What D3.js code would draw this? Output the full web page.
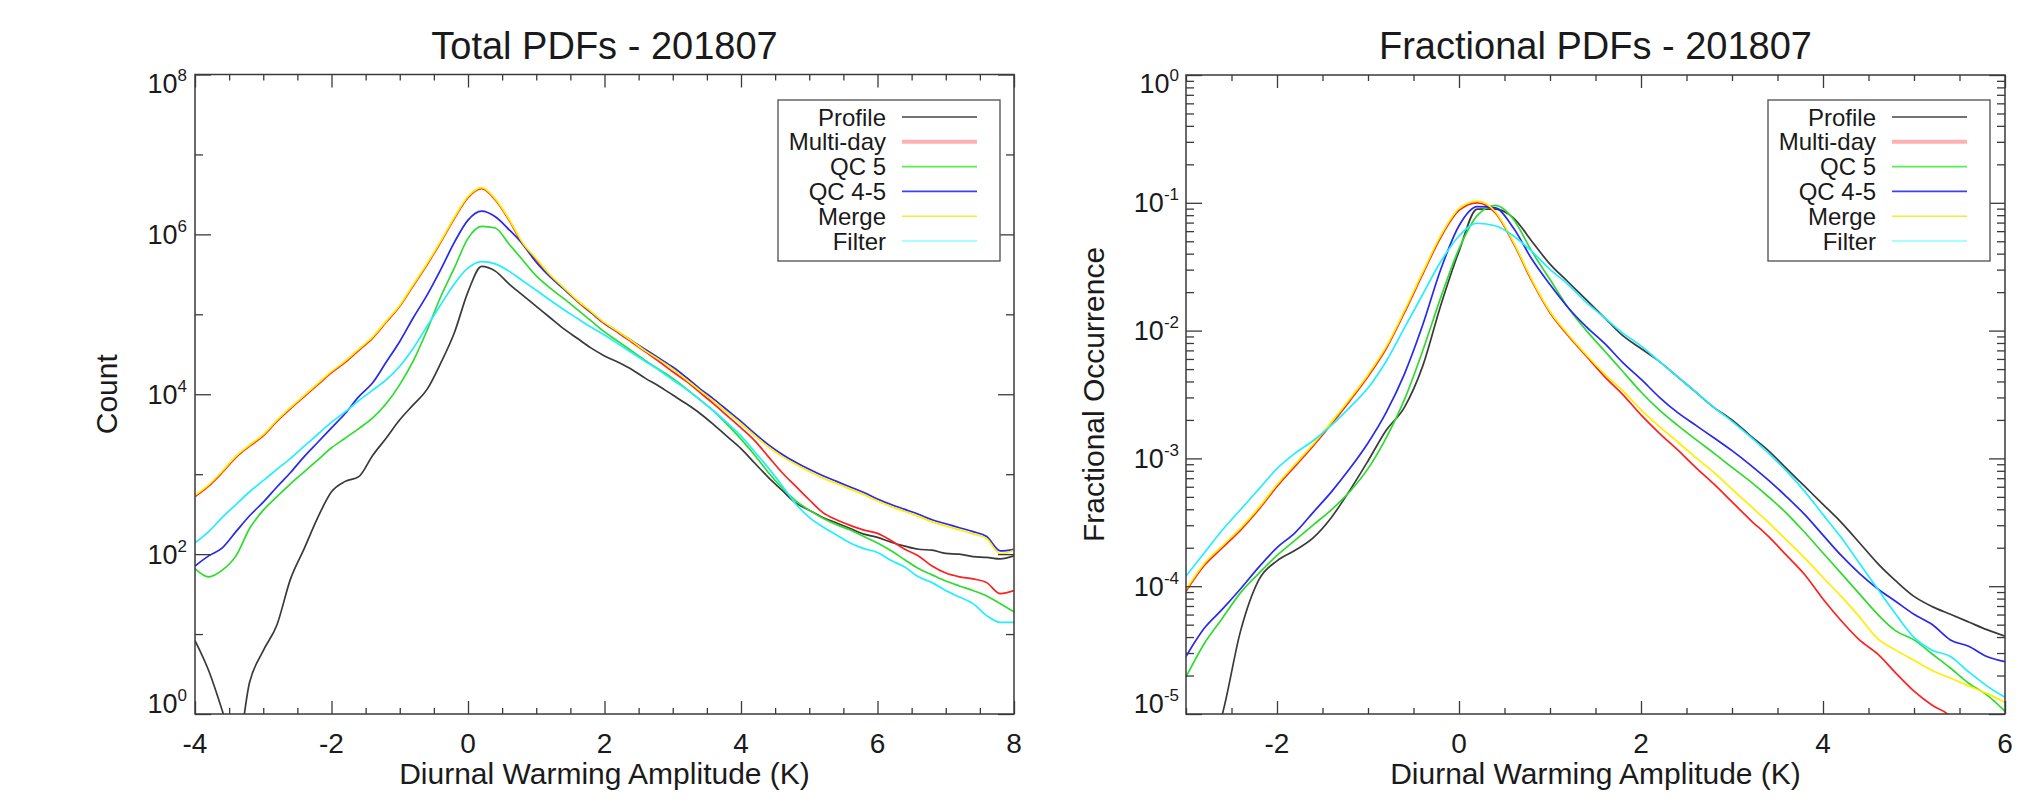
<!DOCTYPE html>
<html><head><meta charset="utf-8">
<script src="https://cdn.jsdelivr.net/npm/d3@7"></script>
<style>
body{margin:0;background:#fff}
svg{display:block}
text{font-family:"Liberation Sans",Arial,Helvetica,sans-serif;fill:#1a1a1a}
</style>
</head><body>
<svg id="c" width="2042" height="803"></svg>
<script>
const seriesNames = ["Profile","Multi-day","QC 5","QC 4-5","Merge","Filter"];
const lineColors = ["#3a3a3a","#ff2020","#2edc2e","#2828f0","#ffee00","#22eeff"];
const legendColors = ["#444444","#ffb0b0","#55ee55","#4040ee","#eeee33","#88ffff"];

// ---- Total PDFs (left) ----
const xTotal = [-4,-3.8,-3.6,-3.4,-3.2,-3,-2.8,-2.6,-2.4,-2.2,-2,-1.8,-1.6,-1.4,-1.2,-1,-0.8,-0.6,-0.4,-0.2,0,0.2,0.4,0.6,0.8,1,1.2,1.4,1.6,1.8,2,2.2,2.4,2.6,2.8,3,3.2,3.4,3.6,3.8,4,4.2,4.4,4.6,4.8,5,5.2,5.4,5.6,5.8,6,6.2,6.4,6.6,6.8,7,7.2,7.4,7.6,7.8,8];
const totalProfile = [8.3,3.5,1.1,0.3,2.5,6.2,13,49,117,288,603,813,933,1700,2820,4790,7410,11500,24500,58900,191000,398000,347000,240000,174000,126000,91200,66100,50100,38000,30200,25100,20400,15800,12600,9770,7590,5750,4170,2950,2090,1380,912,631,437,355,288,245,209,178,162,141,126,115,112,102,100,93,91,87,95];
const totalMultiDay = [525,708,1050,1620,2240,3020,4570,6610,9330,13200,18600,25100,35500,50100,79400,126000,229000,417000,794000,1580000,2880000,3720000,2690000,1510000,759000,479000,302000,209000,145000,105000,75900,58900,44700,33900,25700,19100,14500,10500,7590,5370,3800,2630,1660,1050,708,479,331,269,229,200,182,148,115,95,71,58,52,49,44,32,35];
const totalQC5 = [66,52,63,95,209,355,525,759,1070,1510,2140,2820,3720,5010,7590,13200,26300,63100,166000,380000,891000,1260000,1200000,759000,479000,302000,214000,158000,115000,83200,60300,45700,34700,26300,20400,15800,11700,8510,6170,4170,2750,1740,1050,676,468,355,282,234,200,166,138,110,85,66,55,46,40,35,30,24,19];
const totalQC45 = [71,95,120,191,302,447,692,1050,1660,2510,3800,5750,9330,13800,25100,45700,91200,174000,363000,794000,1510000,1950000,1660000,1150000,759000,447000,295000,209000,148000,107000,77600,60300,46800,36300,28200,21900,16200,11700,8710,6310,4570,3240,2340,1780,1410,1150,955,813,692,589,490,417,363,316,269,240,214,191,166,110,115];
const totalMerge = [545,735,1090,1680,2320,3130,4730,6850,9660,13700,19300,26000,36800,51900,82200,130000,237000,432000,822000,1640000,2980000,3850000,2780000,1560000,786000,496000,313000,216000,150000,109000,78600,61000,46300,34900,27100,20600,15200,11100,8180,5930,4300,3040,2200,1670,1330,1080,897,763,650,553,461,391,341,297,253,225,201,179,156,101,112];
const totalFilter = [138,191,288,417,603,832,1150,1580,2240,3160,4470,6030,8320,11200,15100,22400,38000,70800,132000,240000,380000,457000,427000,347000,263000,200000,151000,115000,89100,69200,55000,42700,33100,25700,20000,15100,11500,8510,6170,4370,3020,1910,1200,724,427,288,219,174,138,117,105,83,69,52,44,35,29,24,17,14,14];
const totalXTicks = [-4,-2,0,2,4,6,8];
const totalXTickLabels = ["-4","-2","0","2","4","6","8"];
const totalYExps = [0,2,4,6,8];
const totalYMinor = [10,1e3,1e5,1e7];

// ---- Fractional PDFs (right) ----
const xFrac = [-3,-2.8,-2.6,-2.4,-2.2,-2,-1.8,-1.6,-1.4,-1.2,-1,-0.8,-0.6,-0.4,-0.2,0,0.2,0.4,0.6,0.8,1,1.2,1.4,1.6,1.8,2,2.2,2.4,2.6,2.8,3,3.2,3.4,3.6,3.8,4,4.2,4.4,4.6,4.8,5,5.2,5.4,5.6,5.8,6];
const fracProfile = [2.5e-6,4.0e-6,1.0e-5,4.47e-5,1.12e-4,1.58e-4,1.91e-4,2.40e-4,3.47e-4,5.62e-4,9.55e-4,1.66e-3,2.51e-3,5.25e-3,1.58e-2,4.17e-2,8.91e-2,8.91e-2,7.59e-2,5.01e-2,3.31e-2,2.40e-2,1.74e-2,1.26e-2,9.12e-3,7.24e-3,5.75e-3,4.37e-3,3.31e-3,2.51e-3,2.00e-3,1.51e-3,1.15e-3,8.32e-4,6.03e-4,4.37e-4,3.16e-4,2.19e-4,1.51e-4,1.10e-4,8.32e-5,6.92e-5,6.03e-5,5.25e-5,4.57e-5,4.07e-5];
const fracMultiDay = [9.12e-5,1.45e-4,2.00e-4,2.75e-4,3.98e-4,6.03e-4,8.71e-4,1.26e-3,1.86e-3,2.82e-3,4.37e-3,7.24e-3,1.38e-2,2.75e-2,5.37e-2,8.71e-2,1.00e-1,8.32e-2,4.79e-2,2.45e-2,1.38e-2,9.12e-3,6.31e-3,4.37e-3,3.16e-3,2.19e-3,1.58e-3,1.17e-3,8.51e-4,6.31e-4,4.57e-4,3.31e-4,2.45e-4,1.74e-4,1.23e-4,7.94e-5,5.37e-5,3.80e-5,2.95e-5,2.09e-5,1.51e-5,1.17e-5,9.55e-6,5.62e-6,3.98e-6,3.16e-6];
const fracQC5 = [1.95e-5,3.55e-5,5.62e-5,8.91e-5,1.26e-4,1.74e-4,2.29e-4,3.02e-4,3.98e-4,5.50e-4,8.32e-4,1.45e-3,2.88e-3,6.92e-3,1.82e-2,4.37e-2,7.94e-2,9.55e-2,7.41e-2,4.17e-2,2.51e-2,1.51e-2,1.00e-2,6.92e-3,4.79e-3,3.31e-3,2.40e-3,1.82e-3,1.41e-3,1.10e-3,8.51e-4,6.61e-4,5.01e-4,3.72e-4,2.63e-4,1.82e-4,1.26e-4,8.71e-5,6.03e-5,4.47e-5,3.80e-5,2.95e-5,2.29e-5,1.74e-5,1.41e-5,1.05e-5];
const fracQC45 = [2.82e-5,4.68e-5,6.61e-5,9.55e-5,1.41e-4,2.00e-4,2.63e-4,3.80e-4,5.50e-4,8.32e-4,1.32e-3,2.29e-3,4.57e-3,1.10e-2,3.02e-2,6.61e-2,9.33e-2,9.12e-2,6.31e-2,3.63e-2,2.29e-2,1.51e-2,1.07e-2,7.94e-3,5.62e-3,4.17e-3,3.02e-3,2.29e-3,1.82e-3,1.45e-3,1.15e-3,8.91e-4,6.76e-4,5.01e-4,3.63e-4,2.51e-4,1.74e-4,1.26e-4,9.55e-5,7.59e-5,6.03e-5,5.01e-5,3.80e-5,3.39e-5,2.82e-5,2.57e-5];
const fracMerge = [9.44e-5,1.50e-4,2.07e-4,2.85e-4,4.12e-4,6.24e-4,9.01e-4,1.30e-3,1.93e-3,2.92e-3,4.52e-3,7.49e-3,1.43e-2,2.85e-2,5.56e-2,9.01e-2,1.03e-1,8.51e-2,4.90e-2,2.51e-2,1.41e-2,9.33e-3,6.46e-3,4.57e-3,3.39e-3,2.40e-3,1.78e-3,1.35e-3,1.02e-3,7.76e-4,5.75e-4,4.27e-4,3.16e-4,2.29e-4,1.66e-4,1.17e-4,8.32e-5,5.75e-5,3.89e-5,3.16e-5,2.63e-5,2.19e-5,1.91e-5,1.66e-5,1.45e-5,1.23e-5];
const fracFilter = [1.20e-4,1.82e-4,2.75e-4,3.98e-4,5.75e-4,8.32e-4,1.10e-3,1.38e-3,1.82e-3,2.51e-3,3.55e-3,5.75e-3,1.05e-2,1.91e-2,3.47e-2,5.50e-2,6.92e-2,6.61e-2,5.50e-2,4.17e-2,3.02e-2,2.29e-2,1.66e-2,1.26e-2,9.55e-3,7.59e-3,5.75e-3,4.37e-3,3.31e-3,2.51e-3,1.95e-3,1.48e-3,1.10e-3,7.94e-4,5.50e-4,3.63e-4,2.40e-4,1.51e-4,9.55e-5,6.03e-5,3.98e-5,3.16e-5,2.82e-5,2.14e-5,1.66e-5,1.35e-5];
const fracXTicks = [-2,0,2,4,6];
const fracXTickLabels = ["-2","0","2","4","6"];
const fracYExps = [-5,-4,-3,-2,-1,0];

const panels = [
  { title:"Total PDFs - 201807", ytitle:"Count", x0:195, x1:1014, y0:74.5, y1:714,
    xDomain:[-4,8], yDomain:[1,1e8], xs:xTotal,
    series:[totalProfile,totalMultiDay,totalQC5,totalQC45,totalMerge,totalFilter],
    xTicks:totalXTicks, xLabels:totalXTickLabels, yExps:totalYExps, yMinor:totalYMinor,
    ytitleX:117, labelGap:8, legendX:778 },
  { title:"Fractional PDFs - 201807", ytitle:"Fractional Occurrence", x0:1186, x1:2005, y0:75, y1:714,
    xDomain:[-3,6], yDomain:[1e-5,1], xs:xFrac,
    series:[fracProfile,fracMultiDay,fracQC5,fracQC45,fracMerge,fracFilter],
    xTicks:fracXTicks, xLabels:fracXTickLabels, yExps:fracYExps, yMinor:null,
    ytitleX:1104, labelGap:7, legendX:1768 }
];

const svg = d3.select("#c");
const AX = "#3a3a3a";

panels.forEach((p, pi) => {
  const x = d3.scaleLinear().domain(p.xDomain).range([p.x0, p.x1]);
  const y = d3.scaleLog().domain(p.yDomain).range([p.y1, p.y0]);
  const g = svg.append("g");

  const cid = "clip" + pi;
  svg.append("defs").append("clipPath").attr("id", cid)
    .append("rect").attr("x", p.x0).attr("y", p.y0)
    .attr("width", p.x1 - p.x0).attr("height", p.y1 - p.y0);

  const line = d3.line().x(d => x(d[0])).y(d => y(d[1])).curve(d3.curveMonotoneX);
  const lg = g.append("g").attr("clip-path", `url(#${cid})`);
  p.series.forEach((vals, si) => {
    const pts = p.xs.map((xv, i) => [xv, vals[i]]);
    lg.append("path").attr("d", line(pts))
      .attr("fill", "none").attr("stroke", lineColors[si])
      .attr("stroke-width", 1.7).attr("stroke-linejoin", "round");
  });

  const minorX = d3.range(p.xDomain[0], p.xDomain[1] + 1e-9, 0.5).filter(v => !p.xTicks.includes(v));
  const styleAxis = sel => {
    sel.select(".domain").remove();
    sel.selectAll("line").attr("stroke", AX).attr("stroke-width", 1.3);
    sel.selectAll("text").remove();
  };
  const ax = [
    [d3.axisBottom(x).tickValues(p.xTicks).tickSize(-13), `translate(0,${p.y1})`],
    [d3.axisBottom(x).tickValues(minorX).tickSize(-6), `translate(0,${p.y1})`],
    [d3.axisTop(x).tickValues(p.xTicks).tickSize(-13), `translate(0,${p.y0})`],
    [d3.axisTop(x).tickValues(minorX).tickSize(-6), `translate(0,${p.y0})`]
  ];
  const majorY = p.yExps.map(e => Math.pow(10, e));
  let minorY;
  if (p.yMinor) minorY = p.yMinor;
  else minorY = y.ticks().filter(v => Math.abs(Math.log10(v) - Math.round(Math.log10(v))) > 1e-6);
  ax.push([d3.axisLeft(y).tickValues(majorY).tickSize(-16), `translate(${p.x0},0)`]);
  ax.push([d3.axisLeft(y).tickValues(minorY).tickSize(-8), `translate(${p.x0},0)`]);
  ax.push([d3.axisRight(y).tickValues(majorY).tickSize(-16), `translate(${p.x1},0)`]);
  ax.push([d3.axisRight(y).tickValues(minorY).tickSize(-8), `translate(${p.x1},0)`]);
  ax.forEach(([a, tr]) => g.append("g").attr("transform", tr).call(a).call(styleAxis));

  g.append("rect").attr("x", p.x0).attr("y", p.y0)
    .attr("width", p.x1 - p.x0).attr("height", p.y1 - p.y0)
    .attr("fill", "none").attr("stroke", AX).attr("stroke-width", 1.5);

  g.selectAll(".xl").data(p.xTicks).enter().append("text")
    .attr("x", d => x(d)).attr("y", 753)
    .attr("text-anchor", "middle").attr("font-size", 28)
    .text((d, i) => p.xLabels[i]);

  p.yExps.forEach(e => {
    const ty = y(Math.pow(10, e));
    const base = Math.max(p.y0 + 18, Math.min(p.y1 - 1, ty + 9.5));
    const t = g.append("text").attr("x", p.x0 - p.labelGap).attr("y", base)
      .attr("text-anchor", "end").attr("font-size", 27);
    t.append("tspan").text("10");
    t.append("tspan").attr("font-size", 17).attr("dy", -12).text(String(e));
  });

  g.append("text").attr("x", (p.x0 + p.x1) / 2).attr("y", 59)
    .attr("text-anchor", "middle").attr("font-size", 38).text(p.title);
  g.append("text").attr("x", (p.x0 + p.x1) / 2).attr("y", 784)
    .attr("text-anchor", "middle").attr("font-size", 30).text("Diurnal Warming Amplitude (K)");
  g.append("text").attr("transform", `translate(${p.ytitleX},${(p.y0 + p.y1) / 2}) rotate(-90)`)
    .attr("text-anchor", "middle").attr("font-size", 30).text(p.ytitle);

  const lx = p.legendX, ly = 100;
  const leg = g.append("g");
  leg.append("rect").attr("x", lx).attr("y", ly).attr("width", 222).attr("height", 161)
    .attr("fill", "#fff").attr("stroke", "#5a5a5a").attr("stroke-width", 1.4);
  seriesNames.forEach((nm, i) => {
    const cy = ly + 17 + i * 24.8;
    leg.append("text").attr("x", lx + 108).attr("y", cy + 8.5)
      .attr("text-anchor", "end").attr("font-size", 24).text(nm);
    leg.append("line").attr("x1", lx + 124).attr("x2", lx + 199)
      .attr("y1", cy).attr("y2", cy)
      .attr("stroke", legendColors[i]).attr("stroke-width", i === 1 ? 4 : 1.6);
  });
});
</script>
</body></html>
